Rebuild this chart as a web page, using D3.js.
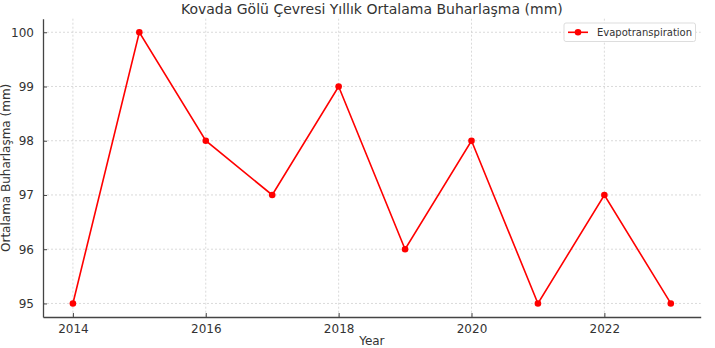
<!DOCTYPE html>
<html>
<head>
<meta charset="utf-8">
<script src="https://cdn.jsdelivr.net/npm/d3@7"></script>
<style>
  body { margin: 0; background: #fff; }
  text { font-family: "DejaVu Sans", sans-serif; fill: #333; }
</style>
</head>
<body>
<div id="chart"></div>
<script>
// data
var years = [2014, 2015, 2016, 2017, 2018, 2019, 2020, 2021, 2022, 2023];
var evap = [95, 100, 98, 97, 99, 96, 98, 95, 97, 95];
var xTicks = [2014, 2016, 2018, 2020, 2022];
var yTicks = [95, 96, 97, 98, 99, 100];
var seriesName = "Evapotranspiration";

var svgWidth = 715, svgHeight = 348;
var margin = { top: 18.7, right: 14.3, bottom: 31, left: 43 };
var width = svgWidth - margin.left - margin.right;
var height = svgHeight - margin.top - margin.bottom;

var svg = d3.select("#chart").append("svg")
  .attr("width", svgWidth)
  .attr("height", svgHeight);

var chartGroup = svg.append("g")
  .attr("transform", `translate(${margin.left}, ${margin.top})`);

var xScale = d3.scaleLinear().domain([2013.55, 2023.45]).range([0, width]);
var yScale = d3.scaleLinear().domain([94.75, 100.25]).range([height, 0]);

// grid
chartGroup.selectAll(".vgrid").data(xTicks).enter().append("line")
  .attr("x1", d => xScale(d)).attr("x2", d => xScale(d))
  .attr("y1", 0).attr("y2", height)
  .attr("stroke", "#d0d0d0").attr("stroke-width", 0.8)
  .attr("stroke-dasharray", "2,2");
chartGroup.selectAll(".hgrid").data(yTicks).enter().append("line")
  .attr("x1", 0).attr("x2", width)
  .attr("y1", d => yScale(d)).attr("y2", d => yScale(d))
  .attr("stroke", "#d0d0d0").attr("stroke-width", 0.8)
  .attr("stroke-dasharray", "2,2");

// axes (ticks pointing inward)
var xAxis = d3.axisBottom(xScale).tickValues(xTicks).tickFormat(d3.format("d"))
  .tickSizeInner(-4).tickSizeOuter(0).tickPadding(7);
var yAxis = d3.axisLeft(yScale).tickValues(yTicks).tickFormat(d3.format("d"))
  .tickSizeInner(-4).tickSizeOuter(0).tickPadding(9);

var gx = chartGroup.append("g")
  .attr("transform", `translate(0, ${height})`)
  .call(xAxis);
var gy = chartGroup.append("g").call(yAxis);

[gx, gy].forEach(function(g) {
  g.select(".domain").attr("stroke", "#444").attr("stroke-width", 1.3);
  g.selectAll(".tick line").attr("stroke", "#444");
  g.selectAll(".tick text").attr("font-size", "12px").style("fill", "#333")
    .attr("font-family", "DejaVu Sans, sans-serif");
});

// line + markers
var line = d3.line()
  .x((d, i) => xScale(years[i]))
  .y(d => yScale(d));

chartGroup.append("path")
  .datum(evap)
  .attr("d", line)
  .attr("fill", "none")
  .attr("stroke", "red")
  .attr("stroke-width", 1.6);

chartGroup.selectAll("circle")
  .data(evap)
  .enter()
  .append("circle")
  .attr("cx", (d, i) => xScale(years[i]))
  .attr("cy", d => yScale(d))
  .attr("r", 3.3)
  .attr("fill", "red");

// title and labels
svg.append("text")
  .attr("x", margin.left + width / 2)
  .attr("y", 14)
  .attr("text-anchor", "middle")
  .attr("font-size", "14px")
  .text("Kovada Gölü Çevresi Yıllık Ortalama Buharlaşma (mm)");

svg.append("text")
  .attr("x", margin.left + width / 2)
  .attr("y", 345)
  .attr("text-anchor", "middle")
  .attr("font-size", "12px")
  .text("Year");

svg.append("g")
  .attr("transform", `translate(10, ${margin.top + height / 2})`)
  .append("text")
  .attr("transform", "rotate(-90)")
  .attr("text-anchor", "middle")
  .attr("font-size", "12px")
  .text("Ortalama Buharlaşma (mm)");

// legend
var legend = svg.append("g").attr("transform", "translate(564, 23)");
legend.append("rect")
  .attr("width", 131.5).attr("height", 18.5)
  .attr("rx", 2)
  .attr("fill", "white")
  .attr("stroke", "#ddd");
legend.append("line")
  .attr("x1", 4).attr("x2", 24).attr("y1", 9.3).attr("y2", 9.3)
  .attr("stroke", "red").attr("stroke-width", 1.6);
legend.append("circle")
  .attr("cx", 14).attr("cy", 9.3).attr("r", 3.3).attr("fill", "red");
legend.append("text")
  .attr("x", 33).attr("y", 13)
  .attr("font-size", "10px")
  .text(seriesName);
</script>
</body>
</html>
